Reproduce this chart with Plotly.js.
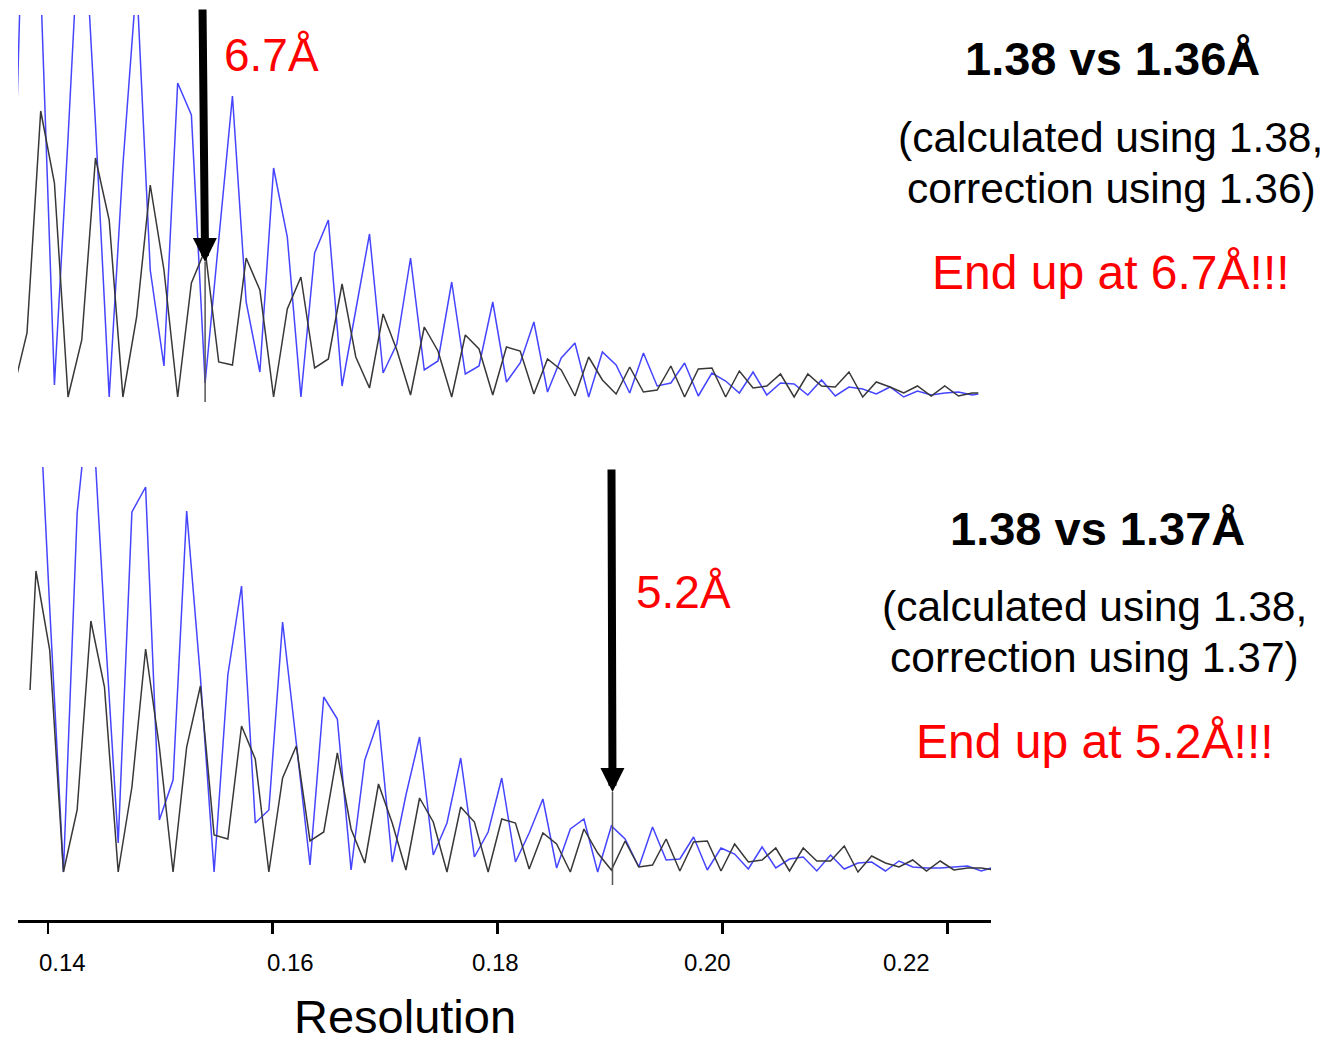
<!DOCTYPE html>
<html>
<head>
<meta charset="utf-8">
<script src="https://cdn.plot.ly/plotly-3.0.1.min.js"></script>
<style>html,body{margin:0;padding:0;background:#fff;}#chart{width:1329px;height:1044px;}</style>
</head>
<body>
<div id="chart"></div>
<script>
// ---- data (resolution in 1/Å, curve amplitude in arbitrary units) ----
const resTop = [0.13693,0.13815,0.13937,0.14059,0.14180,0.14302,0.14424,0.14546,0.14668,0.14790,
  0.14911,0.15033,0.15155,0.15277,0.15399,0.15520,0.15642,0.15764,0.15886,0.16008,
  0.16130,0.16251,0.16373,0.16495,0.16617,0.16739,0.16861,0.16982,0.17104,0.17226,
  0.17348,0.17470,0.17592,0.17713,0.17835,0.17957,0.18079,0.18201,0.18323,0.18444,
  0.18566,0.18688,0.18810,0.18932,0.19054,0.19175,0.19297,0.19419,0.19541,0.19663,
  0.19785,0.19906,0.20028,0.20150,0.20272,0.20394,0.20516,0.20637,0.20759,0.20881,
  0.21003,0.21125,0.21247,0.21368,0.21490,0.21612,0.21734,0.21856,0.21977,0.22099,0.22221,0.22275];
const topBlack = [0.10,0.67,2.89,2.17,0.03,0.60,2.42,1.80,0.03,0.83,
  2.15,1.30,0.03,1.17,1.50,0.38,0.35,1.42,1.10,0.03,
  0.91,1.23,0.32,0.41,1.16,0.43,0.12,0.86,0.50,0.05,
  0.73,0.49,0.03,0.65,0.51,0.05,0.53,0.49,0.06,0.41,
  0.30,0.04,0.43,0.20,0.06,0.33,0.08,0.10,0.34,0.03,
  0.31,0.32,0.03,0.29,0.12,0.14,0.26,0.03,0.26,0.14,
  0.13,0.28,0.03,0.18,0.13,0.07,0.14,0.04,0.14,0.04,0.07,0.07];
const topBlue = [1.60,6.50,4.15,0.15,2.62,5.28,2.76,0.03,2.35,4.20,
  1.30,0.34,3.17,2.85,0.17,1.60,3.04,0.98,0.28,2.32,
  1.63,0.03,1.47,1.80,0.14,0.90,1.66,0.27,0.56,1.42,
  0.30,0.39,1.18,0.26,0.34,0.98,0.18,0.37,0.78,0.08,
  0.42,0.57,0.03,0.48,0.35,0.07,0.47,0.14,0.17,0.37,
  0.04,0.27,0.19,0.07,0.28,0.05,0.17,0.16,0.05,0.20,
  0.04,0.13,0.11,0.06,0.13,0.03,0.09,0.05,0.07,0.08,0.05,0.06];

const resBottom = [0.13842,0.13895,0.14017,0.14139,0.14261,0.14383,0.14504,0.14626,0.14748,0.14870,
  0.14992,0.15114,0.15235,0.15357,0.15479,0.15601,0.15723,0.15845,0.15966,0.16088,
  0.16210,0.16332,0.16454,0.16575,0.16697,0.16819,0.16941,0.17063,0.17185,0.17306,
  0.17428,0.17550,0.17672,0.17794,0.17916,0.18037,0.18159,0.18281,0.18403,0.18525,
  0.18647,0.18768,0.18890,0.19012,0.19134,0.19256,0.19378,0.19499,0.19621,0.19743,
  0.19865,0.19987,0.20108,0.20230,0.20352,0.20474,0.20596,0.20718,0.20839,0.20961,
  0.21083,0.21205,0.21327,0.21449,0.21570,0.21692,0.21814,0.21936,0.22058,0.22180,
  0.22301,0.22423];
const bottomBlack = [1.85,3.04,2.25,0.03,0.65,2.54,1.88,0.03,0.88,2.26,
  1.28,0.03,1.28,1.89,0.40,0.36,1.49,1.16,0.03,0.97,
  1.29,0.34,0.43,1.22,0.46,0.12,0.91,0.52,0.05,0.77,
  0.53,0.03,0.68,0.53,0.03,0.56,0.52,0.06,0.42,0.31,
  0.03,0.46,0.22,0.05,0.34,0.08,0.10,0.36,0.04,0.33,
  0.34,0.04,0.31,0.13,0.15,0.27,0.04,0.27,0.14,0.14,
  0.29,0.03,0.19,0.12,0.08,0.15,0.04,0.14,0.05,0.07,
  0.07,0.05];
const bottomBlue = [4.50,5.48,2.67,0.03,3.62,4.95,2.55,0.32,3.63,3.88,
  0.55,0.95,3.64,1.98,0.03,2.00,2.89,0.52,0.65,2.53,
  1.32,0.10,1.78,1.56,0.05,1.15,1.55,0.13,0.80,1.38,
  0.20,0.52,1.17,0.18,0.43,0.97,0.13,0.42,0.76,0.07,
  0.46,0.56,0.03,0.49,0.36,0.08,0.48,0.15,0.16,0.38,
  0.05,0.27,0.21,0.06,0.28,0.07,0.16,0.18,0.04,0.20,
  0.06,0.12,0.13,0.04,0.14,0.08,0.07,0.07,0.08,0.09,
  0.04,0.08];

const tickVals = [0.14,0.16,0.18,0.20,0.22];
const tickLabels = ['0.14','0.16','0.18','0.20','0.22'];

// marked cut-off points (resolution, amplitude at arrow tip)
const cutTop = {res: 0.15399, amp: 1.38, label: '6.7Å'};
const cutBottom = {res: 0.19022, amp: 0.83, label: '5.2Å'};

// ---- layout helpers (pixel -> paper) ----
const W = 1329, H = 1044;
const FONT = 'Liberation Sans, Arial, Helvetica, sans-serif';
const px = v => v / W;
const py = v => 1 - v / H;
function txt(text, cx, baseline, size, color) {
  return {xref:'paper', yref:'paper', x: px(cx), y: py(baseline - 0.3465*size),
    xanchor:'center', yanchor:'middle', showarrow:false, text:text, borderpad:0,
    font:{family:FONT, size:size, color:color}};
}

const blue = '#4545ff', dark = '#383838';
const traces = [
  {x: resTop, y: topBlue, xaxis:'x', yaxis:'y', mode:'lines', line:{color:blue, width:1.5}, name:'calculated 1.38 (top)', showlegend:false},
  {x: resTop, y: topBlack, xaxis:'x', yaxis:'y', mode:'lines', line:{color:dark, width:1.5}, name:'corrected 1.36', showlegend:false},
  {x: resBottom, y: bottomBlue, xaxis:'x', yaxis:'y2', mode:'lines', line:{color:blue, width:1.5}, name:'calculated 1.38 (bottom)', showlegend:false},
  {x: resBottom, y: bottomBlack, xaxis:'x', yaxis:'y2', mode:'lines', line:{color:dark, width:1.5}, name:'corrected 1.37', showlegend:false}
];

const tickLabelCenters = [62, 290, 495, 708, 906];
const annotations = [
  // arrows
  {xref:'x', yref:'y', x: cutTop.res, y: cutTop.amp, axref:'x', ayref:'y', ax: cutTop.res - 0.00023, ay: 3.92,
   showarrow:true, arrowhead:2, arrowsize:0.6, arrowwidth:8, arrowcolor:'#000', text:''},
  {xref:'x', yref:'y2', x: cutBottom.res, y: cutBottom.amp, axref:'x', ayref:'y2', ax: cutBottom.res - 0.00009, ay: 4.07,
   showarrow:true, arrowhead:2, arrowsize:0.6, arrowwidth:8, arrowcolor:'#000', text:''},
  txt(cutTop.label, 271, 71, 46, '#ff0000'),
  txt(cutBottom.label, 683.5, 608, 46, '#ff0000'),
  txt('<b>1.38 vs 1.36Å</b>', 1112, 75, 47, '#000'),
  txt('(calculated using 1.38,', 1110, 152, 42.5, '#000'),
  txt('correction using 1.36)', 1111, 203, 42.5, '#000'),
  txt('End up at 6.7Å!!!', 1111, 289, 48, '#ff0000'),
  txt('<b>1.38 vs 1.37Å</b>', 1097, 545, 47, '#000'),
  txt('(calculated using 1.38,', 1094.5, 621, 42.5, '#000'),
  txt('correction using 1.37)', 1094, 672, 42.5, '#000'),
  txt('End up at 5.2Å!!!', 1094.5, 758, 48, '#ff0000'),
  txt('Resolution', 405, 1033, 47, '#000')
];
tickLabels.forEach((t, i) => annotations.push(txt(t, tickLabelCenters[i], 971, 24, '#000')));

const layout = {
  width: W, height: H,
  margin: {l:0, r:0, t:0, b:0},
  paper_bgcolor: '#fff', plot_bgcolor: 'rgba(0,0,0,0)',
  showlegend: false,
  xaxis: {
    domain: [px(18), px(991)], range: [0.13735, 0.22388],
    anchor: 'free', position: py(921),
    showline: true, linecolor: '#000', linewidth: 3,
    ticks: 'outside', ticklen: 11, tickwidth: 2.5, tickcolor: '#000',
    tickvals: tickVals, ticktext: tickLabels, showticklabels: false,
    showgrid: false, zeroline: false
  },
  yaxis: {domain: [py(402), py(15)], range: [-0.02, 3.85], visible: false, anchor: 'x'},
  yaxis2: {domain: [py(885), py(467)], range: [-0.10, 4.08], visible: false, anchor: 'x'},
  shapes: [
    {type:'line', xref:'x', yref:'y', x0: cutTop.res, x1: cutTop.res, y0: cutTop.amp, y1: -0.02, line:{color:'#555', width:1.5}},
    {type:'line', xref:'x', yref:'y2', x0: cutBottom.res, x1: cutBottom.res, y0: cutBottom.amp, y1: -0.10, line:{color:'#555', width:1.5}}
  ],
  annotations: annotations
};

Plotly.newPlot('chart', traces, layout, {staticPlot: true, displayModeBar: false});
</script>
</body>
</html>
